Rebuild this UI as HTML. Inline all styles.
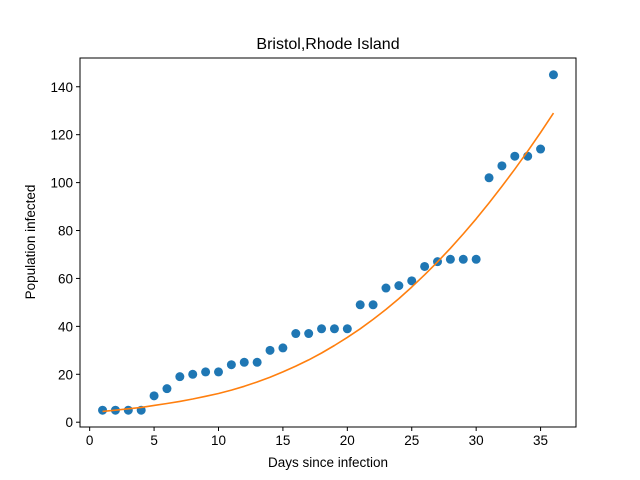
<!DOCTYPE html>
<html><head><meta charset="utf-8"><style>body{margin:0;background:#fff}svg{display:block;font-family:"Liberation Sans","DejaVu Sans",sans-serif}</style></head>
<body>
<svg id="chart" width="640" height="480">
<rect width="640" height="480" fill="#fff"/>
<text x="328" y="49" font-size="16" text-anchor="middle">Bristol,Rhode Island</text>
<g id="plot"></g>
<rect x="80" y="58" width="496" height="369" fill="none" stroke="#000" stroke-width="1"/>
<text x="328" y="467" font-size="13.5" text-anchor="middle">Days since infection</text>
<text transform="translate(35,242) rotate(-90)" font-size="13.5" text-anchor="middle">Population infected</text>
</svg>
<script>
const days=[1,2,3,4,5,6,7,8,9,10,11,12,13,14,15,16,17,18,19,20,21,22,23,24,25,26,27,28,29,30,31,32,33,34,35,36];
const infected=[5,5,5,5,11,14,19,20,21,21,24,25,25,30,31,37,37,39,39,39,49,49,56,57,59,65,67,68,68,68,102,107,111,111,114,145];
const fitValues=[4.5,5.0,5.6,6.2,7.0,7.8,8.7,9.7,10.8,12.0,13.4,15.0,16.8,18.8,21.0,23.4,26.0,28.9,32.0,35.4,39.0,42.9,47.1,51.6,56.4,61.5,66.9,72.6,78.6,84.9,91.5,98.4,105.6,113.1,120.9,129.0];
const xTicks=[0,5,10,15,20,25,30,35];
const yTicks=[0,20,40,60,80,100,120,140];
const X0=80,X1=576,Y0=427,Y1=58,xmin=-0.75,xmax=37.75,ymin=-2,ymax=152;
const sx=v=>X0+(v-xmin)/(xmax-xmin)*(X1-X0);
const sy=v=>Y0-(v-ymin)/(ymax-ymin)*(Y0-Y1);
const NS="http://www.w3.org/2000/svg";
const g=document.getElementById('plot');
function mk(t,a){const e=document.createElementNS(NS,t);for(const k in a)e.setAttribute(k,a[k]);g.appendChild(e);return e;}
xTicks.forEach(v=>{
 const l=mk('line',{x1:sx(v),x2:sx(v),y1:Y0,y2:Y0+4,stroke:'#000'});
 
 
 const t=mk('text',{x:sx(v),y:Y0+18,'font-size':'13.5','text-anchor':'middle'});t.textContent=v;
 
 
});
yTicks.forEach(v=>{
 const l=mk('line',{x1:X0-4,x2:X0,y1:sy(v),y2:sy(v),stroke:'#000'});
 
 
 const t=mk('text',{x:X0-7,y:sy(v)+5,'font-size':'13.5','text-anchor':'end'});t.textContent=v;
 
 
});
days.forEach((d,i)=>{
 const c=mk('circle',{cx:sx(d),cy:sy(infected[i]),r:4.5,fill:'#1f77b4'});
 
 
});
const p=mk('path',{d:days.map((d,i)=>(i?'L':'M')+sx(d).toFixed(1)+','+sy(fitValues[i]).toFixed(1)).join(''),fill:'none',stroke:'#ff7f0e','stroke-width':1.6,'stroke-linejoin':'round'});


</script>
</body></html>
